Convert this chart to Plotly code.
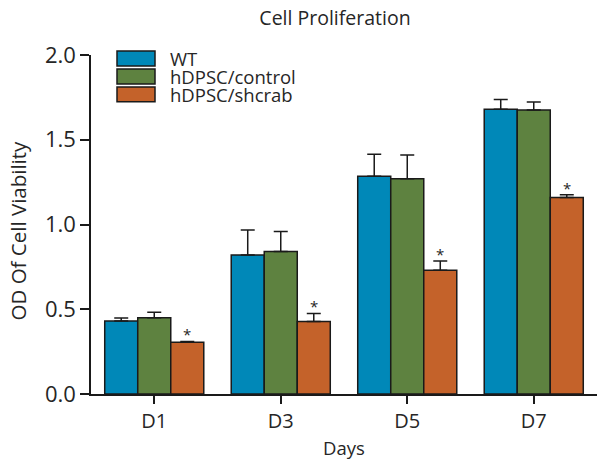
import plotly.graph_objects as go

days = ["D1", "D3", "D5", "D7"]
series = ["WT", "hDPSC/control", "hDPSC/shcrab"]
wt = [0.43, 0.82, 1.285, 1.68]
wt_err = [0.018, 0.148, 0.13, 0.057]
ctrl = [0.45, 0.84, 1.27, 1.675]
ctrl_err = [0.033, 0.118, 0.14, 0.047]
sh = [0.305, 0.428, 0.73, 1.16]
sh_err = [0.005, 0.047, 0.055, 0.015]
colors = ["#0088B8", "#5E8240", "#C4622A"]
y_ticks = [0.0, 0.5, 1.0, 1.5, 2.0]

FONT = "Open Sans"
TXT = "#262626"
bargap = 0.217

W, H = 597, 460
L, T, B = 91, 54.5, 65.5
PW, PH = W - L, H - T - B

fig = go.Figure()
for name, vals, errs, col in zip(series, [wt, ctrl, sh], [wt_err, ctrl_err, sh_err], colors):
    fig.add_trace(go.Bar(
        x=days, y=vals, name=name,
        marker=dict(color=col, line=dict(color="#1a1a1a", width=1.5)),
        error_y=dict(type="data", array=errs, symmetric=False, arrayminus=[0] * len(errs),
                     color="#1a1a1a", thickness=1.5, width=7),
        showlegend=False,
    ))

# significance stars over shcrab bars
bw = (1 - bargap) / 3
for i, (v, e) in enumerate(zip(sh, sh_err)):
    fig.add_annotation(x=i + bw, y=v + e, xref="x", yref="y", text="*", showarrow=False,
                       yanchor="bottom", yshift=-5, font=dict(family=FONT, size=15, color=TXT))

# manual legend (pixel positions converted to paper coords)
leg_y = [58, 76, 94]
for name, col, yy in zip(series, colors, leg_y):
    fig.add_shape(type="rect", xref="paper", yref="paper",
                  x0=(117 - L) / PW, x1=(155 - L) / PW,
                  y0=(T + PH - (yy + 7.5)) / PH, y1=(T + PH - (yy - 7.5)) / PH,
                  fillcolor=col, line=dict(color="#1a1a1a", width=1.5))
    fig.add_annotation(xref="paper", yref="paper", x=(168 - L) / PW, y=(T + PH - yy) / PH,
                       text=name, showarrow=False, xanchor="left", yanchor="middle",
                       font=dict(family=FONT, size=18.5, color=TXT))

# y axis title
fig.add_annotation(xref="paper", yref="paper", x=(18 - L) / PW, y=(T + PH - 230.5) / PH,
                   text="OD Of Cell Viability", textangle=-90, showarrow=False,
                   xanchor="center", yanchor="middle",
                   font=dict(family=FONT, size=20.5, color=TXT))

fig.update_layout(
    width=W, height=H,
    margin=dict(l=L, r=0, t=T, b=B),
    paper_bgcolor="white", plot_bgcolor="white",
    barmode="group", bargap=bargap, bargroupgap=0,
    title=dict(text="Cell Proliferation", x=335 / W, xanchor="center", y=1 - 18 / H, yanchor="middle",
               font=dict(family=FONT, size=19.5, color=TXT)),
    font=dict(family=FONT, color=TXT),
)
fig.update_xaxes(range=[-0.5, 3.5], showline=True, linecolor="#1a1a1a", linewidth=1.5,
                 ticks="outside", ticklen=8, tickwidth=1.5, tickcolor="#1a1a1a",
                 tickfont=dict(family=FONT, size=20, color=TXT),
                 title=dict(text="Days", font=dict(family=FONT, size=18.5, color=TXT), standoff=9),
                 showgrid=False)
fig.update_yaxes(range=[0, 2.0], tickvals=y_ticks, ticktext=[f"{t:.1f}" for t in y_ticks],
                 showline=True, linecolor="#1a1a1a", linewidth=1.5,
                 ticks="outside", ticklen=9, tickwidth=1.5, tickcolor="#1a1a1a",
                 tickfont=dict(family=FONT, size=22, color=TXT),
                 showgrid=False, zeroline=False)

fig.write_html("out.html", config={"displayModeBar": False},
               post_script="document.body.style.margin='0';")
